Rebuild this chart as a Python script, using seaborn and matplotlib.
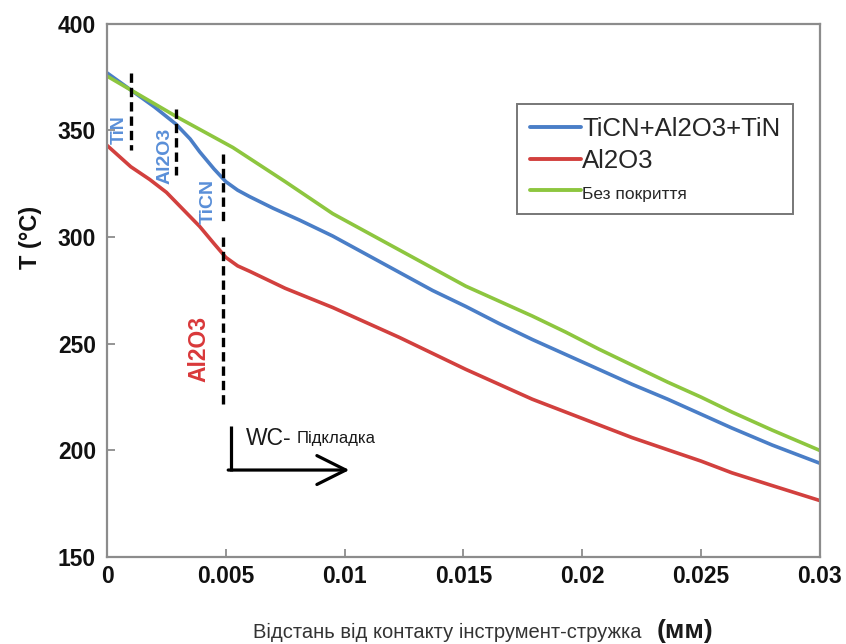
import matplotlib
matplotlib.use("Agg")
import matplotlib.pyplot as plt
import seaborn as sns
import pandas as pd

# ---- data ----
x_blue = [0, 0.001, 0.002, 0.0029, 0.0035, 0.0039, 0.0045, 0.005, 0.0055, 0.006, 0.007, 0.0081, 0.0095, 0.0109, 0.0123, 0.0137, 0.0151, 0.0165, 0.0179, 0.0193, 0.0207, 0.0221, 0.0236, 0.025, 0.0263, 0.028, 0.03]
t_blue = [377, 369, 361, 353, 346, 340, 332, 326, 322, 319, 313.5, 308, 300.5, 292, 283.5, 275, 267.5, 259.5, 252, 245, 238, 231, 224, 217, 210.5, 202.5, 194]
x_red = [0, 0.001, 0.0018, 0.0025, 0.0032, 0.0039, 0.0045, 0.005, 0.0055, 0.006, 0.0075, 0.0095, 0.0109, 0.0123, 0.0137, 0.0151, 0.0165, 0.0179, 0.0193, 0.0207, 0.0221, 0.0236, 0.025, 0.0263, 0.028, 0.03]
t_red = [343, 333, 327, 321, 313, 305, 297, 290.5, 286.5, 284, 276, 267, 260, 253, 245.5, 238, 231, 224, 218, 212, 206, 200.3, 195, 189.5, 183.5, 176.5]
x_green = [0, 0.001, 0.003, 0.0053, 0.0075, 0.0095, 0.0109, 0.0123, 0.0137, 0.0151, 0.0165, 0.0179, 0.0193, 0.0207, 0.0221, 0.0236, 0.025, 0.0263, 0.028, 0.03]
t_green = [375.5, 369, 356, 342, 326, 311, 302.5, 294, 285.5, 277, 270, 263, 255.5, 247.5, 240, 232, 225, 218, 209.5, 200]
series_names = ["TiCN+Al2O3+TiN", "Al2O3", "Без покриття"]
colors = ["#4a7ec7", "#d2403e", "#8dc63f"]

# dashed layer boundaries: (x, y_start, y_end)
dash_x = [0.00101, 0.0029, 0.0049, 0.0049]
dash_y0 = [377, 360, 339, 300]
dash_y1 = [341, 329, 307, 221]

xticks = [0, 0.005, 0.01, 0.015, 0.02, 0.025, 0.03]
xtick_labels = ["0", "0.005", "0.01", "0.015", "0.02", "0.025", "0.03"]
yticks = [150, 200, 250, 300, 350, 400]

df = pd.concat([
    pd.DataFrame({"x": x_blue, "T": t_blue, "s": series_names[0]}),
    pd.DataFrame({"x": x_red, "T": t_red, "s": series_names[1]}),
    pd.DataFrame({"x": x_green, "T": t_green, "s": series_names[2]}),
])

sns.set_theme(style="white")
plt.rcParams['font.family'] = ['Liberation Sans', 'DejaVu Sans']

fig = plt.figure(figsize=(8.46, 6.44), dpi=100)
ax = fig.add_axes([0.1265, 0.135, 0.8425, 0.828])

sns.lineplot(data=df, x="x", y="T", hue="s", palette=colors, linewidth=2.6,
             ax=ax, sort=False, legend=True)
for ln in ax.get_lines():
    ln.set_solid_capstyle("round")
    ln.set_solid_joinstyle("round")

for xd, a, b in zip(dash_x, dash_y0, dash_y1):
    ax.plot([xd, xd], [a, b], color="black", linestyle=(0, (2.8, 1.5)), linewidth=2.4)

# layer labels
lblue = "#5a8fd8"
ax.text(0.00053, 350.5, "TiN", color=lblue, rotation=90, fontsize=13, fontweight="bold", ha="center", va="center")
ax.text(0.00243, 338, "Al2O3", color=lblue, rotation=90, fontsize=14, fontweight="bold", ha="center", va="center")
ax.text(0.00424, 316.5, "TiCN", color=lblue, rotation=90, fontsize=14, fontweight="bold", ha="center", va="center")
ax.text(0.00388, 247.5, "Al2O3", color="#d9383a", rotation=90, fontsize=16.5, ha="center", va="center", fontweight="bold")

# WC substrate arrow
ax.plot([0.00521, 0.00521], [211.5, 190.5], color="black", linewidth=2.3, solid_capstyle="butt")
ax.annotate("", xy=(0.0102, 190.8), xytext=(0.0051, 190.8),
            arrowprops=dict(arrowstyle="->,head_length=0.4,head_width=0.2", color="black",
                            lw=2.3, mutation_scale=52, shrinkA=0, shrinkB=0))
ax.text(0.00586, 205.5, "WC-", fontsize=16.5, ha="left", va="center", color="#1a1a1a")
ax.text(0.00796, 205.8, "Підкладка", fontsize=12, ha="left", va="center", color="#1a1a1a")

ax.set_xlim(0, 0.03)
ax.set_ylim(150, 400)
ax.set_xticks(xticks)
ax.set_xticklabels(xtick_labels)
ax.set_yticks(yticks)
for lab in ax.get_xticklabels() + ax.get_yticklabels():
    lab.set_fontweight("bold")
    lab.set_fontsize(16.5)
    lab.set_color("#111111")
ax.tick_params(axis="x", direction="in", length=6, width=1.3, color="#8c8c8c", pad=6, bottom=True)
ax.tick_params(axis="y", direction="in", length=6, width=1.3, color="#8c8c8c", pad=8, left=True)
for sp in ax.spines.values():
    sp.set_color("#8c8c8c")
    sp.set_linewidth(1.6)

ax.set_xlabel("")
ax.set_ylabel("")
fig.text(30 / 846, 1 - 237 / 644, "T (°C)", fontsize=17, fontweight="bold", rotation=90,
         ha="center", va="center", color="#111111")

leg = ax.legend(loc="upper left", bbox_to_anchor=(0.575, 0.849), frameon=True,
                fancybox=False, edgecolor="#555555", handlelength=2.0, handletextpad=0.05,
                borderpad=0.5, labelspacing=0.3, borderaxespad=0, fontsize=18.5)
leg.get_frame().set_linewidth(1.4)
texts = leg.get_texts()
texts[2].set_fontsize(12.5)
for line in leg.get_lines():
    line.set_linewidth(2.8)

fig.text(253 / 846, 6 / 644, "Відстань від контакту інструмент-стружка", fontsize=14.5,
         ha="left", va="baseline", color="#333333")
fig.text(657 / 846, 6 / 644, "(мм)", fontsize=19, fontweight="bold", ha="left", va="baseline",
         color="#1a1a1a")

fig.savefig("out.png", dpi=100)
